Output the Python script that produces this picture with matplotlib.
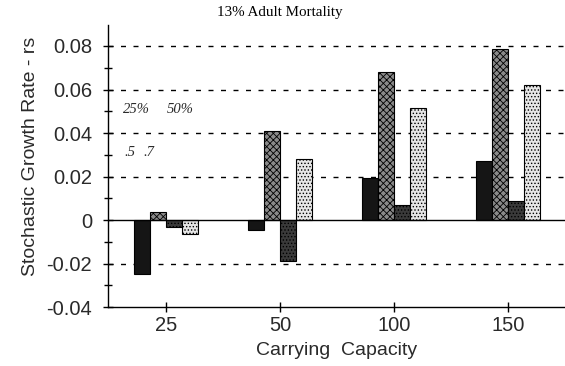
import numpy as np
import matplotlib.pyplot as plt
from matplotlib.ticker import MultipleLocator

# Datos: tasa de crecimiento estocastica por capacidad de carga
capacidades = ["25", "50", "100", "150"]
serie_25_5 = [-0.025, -0.0045, 0.0195, 0.027]
serie_50_5 = [0.0037, 0.041, 0.068, 0.0785]
serie_25_7 = [-0.003, -0.019, 0.007, 0.0088]
serie_50_7 = [-0.0063, 0.028, 0.0515, 0.062]
yticks = [-0.04, -0.02, 0, 0.02, 0.04, 0.06, 0.08]
ytick_labels = ["-0.04", "-0.02", "0", "0.02", "0.04", "0.06", "0.08"]

series = [serie_25_5, serie_50_5, serie_25_7, serie_50_7]
estilos = [
    dict(color="#151515", hatch=None),
    dict(color="#8a8a8a", hatch="xxxxx"),
    dict(color="#3a3a3a", hatch="....."),
    dict(color="#e6e6e6", hatch="....."),
]

plt.rcParams["hatch.linewidth"] = 0.6
plt.rcParams["font.family"] = ["Liberation Sans", "DejaVu Sans"]

fig = plt.figure(figsize=(5.65, 3.66), dpi=100)
ax = fig.add_axes([0.191, 0.161, 0.809, 0.771])

x = np.arange(len(capacidades))
ancho = 0.14

# lineas punteadas en los ticks mayores
for y in yticks:
    if y in (0, -0.04):
        continue
    ax.axhline(y, color="black", lw=1.0, dashes=(3.6, 5.4), zorder=0)
ax.axhline(0, color="black", lw=1.0, zorder=3)

for i, (vals, est) in enumerate(zip(series, estilos)):
    pos = x + (i - 1.5) * ancho
    ax.bar(pos, vals, width=ancho, facecolor=est["color"], edgecolor="black",
           hatch=est["hatch"], linewidth=0.8, zorder=2)

ax.set_xlim(-0.51, 3.5)
ax.set_ylim(-0.04, 0.0897)
ax.set_xticks(x)
ax.set_xticklabels(capacidades)
ax.set_yticks(yticks)
ax.set_yticklabels(ytick_labels)
ax.yaxis.set_minor_locator(MultipleLocator(0.01))

for s in ["top", "right"]:
    ax.spines[s].set_visible(False)
ax.spines["left"].set_linewidth(1.0)
ax.spines["bottom"].set_linewidth(1.0)

gris = "#2a2a2a"
ax.tick_params(axis="both", which="major", direction="inout", length=7,
               width=1.0, labelsize=14.5, labelcolor=gris)
ax.tick_params(axis="y", which="minor", direction="inout", length=6, width=1.0)
ax.tick_params(axis="y", pad=8)
ax.tick_params(axis="x", pad=3)

ax.set_ylabel("Stochastic Growth Rate - rs", fontsize=14, color=gris, labelpad=5)
ax.yaxis.set_label_coords(-0.15, 0.535)
ax.set_xlabel("Carrying  Capacity", fontsize=14, color=gris, labelpad=5)

fig.text(0.495, 0.967, "13% Adult Mortality", family="Liberation Serif",
         fontsize=10.8, ha="center", va="center")

notas = [("25%", -0.377, 0.051), ("50%", 0.009, 0.051),
         (".5", -0.368, 0.031), (".7", -0.202, 0.031)]
for txt, nx, ny in notas:
    ax.text(nx, ny, txt, family="Liberation Serif", style="italic",
            fontsize=10.5, color=gris, ha="left", va="center")

fig.savefig("out.png", dpi=100)
